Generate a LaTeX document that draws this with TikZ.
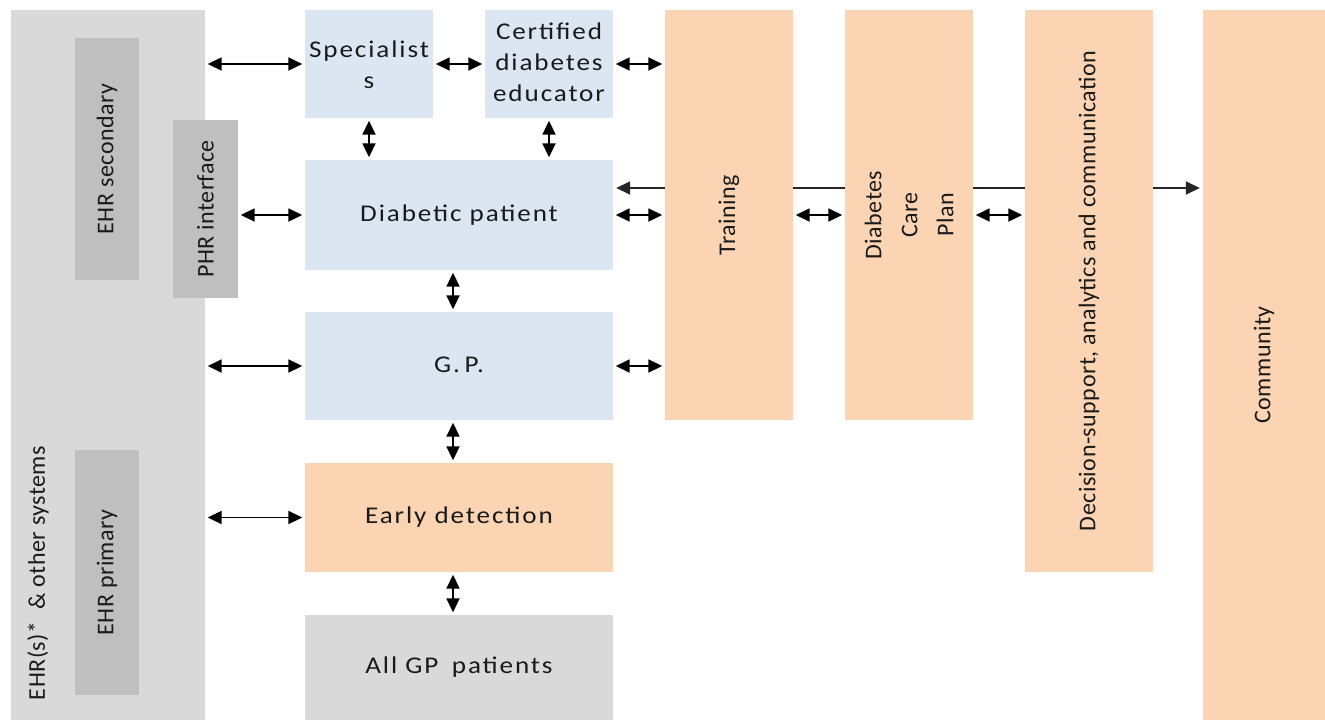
\documentclass[tikz,border=0pt]{standalone}
\usepackage{fontspec}
\setmainfont{Carlito}
\newfontfamily\hfont[LetterSpace=7]{Carlito}
\newfontfamily\vfont[LetterSpace=2]{Carlito}
\usetikzlibrary{arrows.meta,backgrounds}
\definecolor{grayout}{HTML}{D9D9D9}
\definecolor{grayin}{HTML}{BFBFBF}
\definecolor{bluebx}{HTML}{DCE6F2}
\definecolor{orangebx}{HTML}{FBD4B4}
\definecolor{txt}{HTML}{1A1A1A}
\newcommand{\hstretch}[1]{\scalebox{1.13}[1]{\begin{tabular}{@{}c@{}}#1\end{tabular}}}
\tikzset{
  bx/.style={draw=none, inner sep=2pt, align=center, text=txt, font=\hfont\fontsize{24}{31}\selectfont},
  vtxt/.style={draw=none, inner sep=2pt, align=center, text=txt, rotate=90, font=\vfont\fontsize{24}{36}\selectfont},
  graybx/.style={bx, fill=grayout},
  grayinbx/.style={bx, fill=grayin},
  bluebox/.style={bx, fill=bluebx},
  orbox/.style={bx, fill=orangebx},
  tip/.tip={Triangle[length=14pt,width=13pt]},
  arr/.style={line width=1.8pt, black, tip-tip, shorten <=2.5pt, shorten >=2.5pt},
  onearr/.style={line width=1.6pt, black!85, tip-tip, shorten <=3pt, shorten >=3pt}
}
\begin{document}
\begin{tikzpicture}[x=1pt,y=-1pt]
\useasboundingbox (0,0) rectangle (1325,724);
% left column
\node[graybx, minimum width=194pt, minimum height=710pt] (ehr) at (108,365) {};
\node[vtxt] (ehrtxt) at (38,573) {EHR(s)*\enspace\& other systems};
\node[grayinbx, minimum width=64pt, minimum height=242pt] (ehrsec) at (107,159) {};
\node[vtxt] (ehrsectxt) at (ehrsec) {EHR secondary};
\node[grayinbx, minimum width=65pt, minimum height=178pt] (phr) at (205.5,209) {};
\node[vtxt] (phrtxt) at (phr) {PHR interface};
\node[grayinbx, minimum width=64pt, minimum height=245pt] (ehrprim) at (107,572.5) {};
\node[vtxt] (ehrprimtxt) at (ehrprim) {EHR primary};
% middle column
\node[bluebox, minimum width=128pt, minimum height=108pt] (spec) at (369,64) {};
\node[bx] (spectxt) at (369,67) {\hstretch{Specialist\\s}};
\node[bluebox, minimum width=128pt, minimum height=108pt] (cde) at (549,64) {\hstretch{Certified\\diabetes\\educator}};
\node[bluebox, minimum width=308pt, minimum height=110pt] (dp) at (459,215) {\hstretch{Diabetic patient}};
\node[bluebox, minimum width=308pt, minimum height=108pt] (gp) at (459,366) {\hstretch{G.\,P.}};
\node[orbox, minimum width=308pt, minimum height=109pt] (ed) at (459,517.5) {\hstretch{Early detection}};
\node[graybx, minimum width=308pt, minimum height=105pt] (all) at (459,667.5) {\hstretch{All GP\enspace patients}};
% right columns
\node[orbox, minimum width=128pt, minimum height=410pt] (train) at (729,215) {};
\node[vtxt] (traintxt) at (train) {Training};
\node[orbox, minimum width=128pt, minimum height=410pt] (dcp) at (909,215) {};
\node[vtxt] (dcptxt) at (dcp) {Diabetes\\Care\\Plan};
\node[orbox, minimum width=128pt, minimum height=562pt] (dsac) at (1089,291) {};
\node[vtxt] (dsactxt) at (dsac) {Decision-support, analytics and communication};
\node[orbox, minimum width=122pt, minimum height=710pt] (comm) at (1264,365) {};
\node[vtxt] (commtxt) at (comm) {Community};
% long line behind boxes
\begin{scope}[on background layer]
\coordinate (lstart) at ([yshift=27pt]dp.east);
\draw[onearr] (lstart) -- (lstart -| comm.west);
\end{scope}
% horizontal arrows
\draw[arr] (ehr.east |- spec.west) -- (spec.west);
\draw[arr] (spec.east) -- (cde.west);
\draw[arr] (cde.east) -- (cde.east -| train.west);
\draw[arr] (phr.east |- dp.west) -- (dp.west);
\draw[arr] (dp.east) -- (dp.east -| train.west);
\draw[arr] (train.east |- dp.east) -- (dp.east -| dcp.west);
\draw[arr] (dcp.east |- dp.east) -- (dp.east -| dsac.west);
\draw[arr] (ehr.east |- gp.west) -- (gp.west);
\draw[arr] (gp.east) -- (gp.east -| train.west);
\draw[arr] (ehr.east |- ed.west) -- (ed.west);
% vertical arrows
\draw[arr] (spec.south) -- (spec.south |- dp.north);
\draw[arr] (cde.south) -- (cde.south |- dp.north);
\draw[arr] ([xshift=-6pt]dp.south) -- ([xshift=-6pt]gp.north);
\draw[arr] ([xshift=-6pt]gp.south) -- ([xshift=-6pt]ed.north);
\draw[arr] ([xshift=-6pt]ed.south) -- ([xshift=-6pt]all.north);
\end{tikzpicture}
\end{document}
